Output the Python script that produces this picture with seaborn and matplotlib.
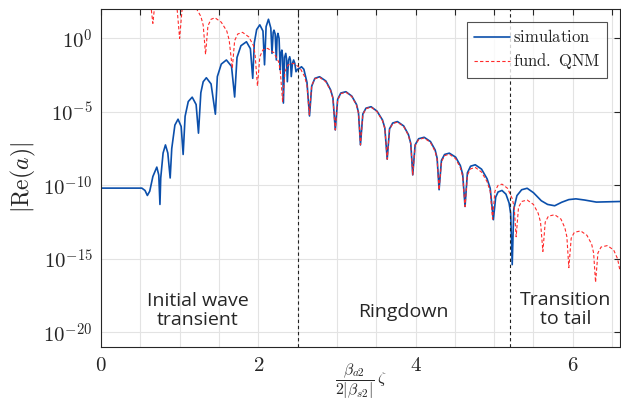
import numpy as np
import pandas as pd
import matplotlib
matplotlib.use("Agg")
import matplotlib.pyplot as plt
import seaborn as sns
from matplotlib.ticker import NullLocator

# Simulation curve: x positions and log10 |Re(a)|
sim_x = [0.00, 0.52, 0.56, 0.59, 0.62, 0.66, 0.71, 0.735, 0.75,
         0.76, 0.79, 0.82, 0.85, 0.88,
         0.90, 0.94, 0.98, 1.02, 1.045,
         1.07, 1.11, 1.16, 1.21, 1.24,
         1.27, 1.30, 1.34, 1.40, 1.455,
         1.48, 1.53, 1.595, 1.66, 1.70,
         1.73, 1.78, 1.85, 1.90, 1.93,
         1.95, 1.98, 2.02, 2.06, 2.08,
         2.10, 2.13, 2.16, 2.175,
         2.19, 2.20, 2.215, 2.23,
         2.24, 2.25, 2.265, 2.28,
         2.29, 2.30, 2.31, 2.32,
         2.335, 2.35, 2.36, 2.37,
         2.385, 2.40, 2.41, 2.42,
         2.435, 2.45, 2.465, 2.48,
         2.50, 2.525, 2.55, 2.58, 2.62, 2.652,
         2.68, 2.72, 2.78, 2.86, 2.92, 2.95, 2.98,
         3.01, 3.05, 3.115, 3.19, 3.25, 3.275, 3.30,
         3.33, 3.37, 3.435, 3.51, 3.58, 3.61, 3.64,
         3.67, 3.71, 3.77, 3.85, 3.91, 3.94, 3.965,
         3.995, 4.04, 4.11, 4.19, 4.25, 4.275, 4.30,
         4.33, 4.37, 4.43, 4.51, 4.57, 4.60, 4.63,
         4.66, 4.70, 4.76, 4.84, 4.91, 4.95, 4.99,
         5.02, 5.05, 5.10, 5.15, 5.19, 5.21, 5.23,
         5.25, 5.29, 5.35, 5.42, 5.50, 5.60, 5.68, 5.77,
         5.86, 5.95, 6.04, 6.15, 6.30, 6.45, 6.60]
sim_logy = [-10.19, -10.19, -10.35, -10.69, -10.4, -9.4, -8.76, -9.3, -11.3,
            -9.5, -7.8, -7.25, -7.8, -9.5,
            -7.5, -5.9, -5.5, -6.0, -7.9,
            -5.3, -4.3, -4.0, -4.5, -6.45,
            -3.7, -2.95, -2.68, -3.1, -5.16,
            -2.6, -1.75, -1.47, -1.9, -3.99,
            -1.3, -0.5, -0.23, -0.7, -2.72,
            -0.3, 0.6, 0.92, 0.5, -1.8,
            0.8, 1.3, 0.7, -1.02,
            0.4, 0.56, 0.3, -1.47,
            0.1, 0.34, 0.0, -2.15,
            -1.0, -0.8, -1.2, -4.4,
            -1.3, -1.02, -1.4, -2.95,
            -1.5, -1.25, -1.5, -2.6,
            -1.7, -1.47, -1.7, -2.27,
            -2.1, -2.04, -1.93, -2.1, -3.0, -5.28,
            -3.25, -2.72, -2.61, -2.9, -3.5, -4.05, -6.23,
            -4.15, -3.72, -3.63, -3.93, -4.5, -5.05, -7.25,
            -5.15, -4.75, -4.65, -4.95, -5.55, -6.1, -8.22,
            -6.15, -5.76, -5.66, -5.96, -6.55, -7.15, -9.29,
            -7.25, -6.83, -6.73, -7.02, -7.6, -8.15, -10.3,
            -8.3, -7.9, -7.81, -8.08, -8.65, -9.25, -11.44,
            -9.15, -8.7, -8.6, -8.9, -9.55, -10.2, -12.34,
            -10.8, -10.45, -10.35, -10.6, -11.2, -11.9, -15.4,
            -11.6, -10.7, -10.3, -10.2, -10.5, -11.05, -11.3, -11.39,
            -11.15, -10.97, -10.92, -11.0, -11.14, -11.12, -11.1]

# Fundamental QNM curve
qnm_x = [0.30, 0.35, 0.38, 0.47, 0.56, 0.62, 0.66,
         0.69, 0.73, 0.79, 0.87, 0.94, 0.97, 1.00,
         1.03, 1.07, 1.12, 1.20, 1.27, 1.30, 1.33,
         1.36, 1.40, 1.45, 1.53, 1.60, 1.63, 1.67,
         1.70, 1.74, 1.80, 1.88, 1.94, 1.96, 1.99,
         2.02, 2.06, 2.12, 2.20, 2.26, 2.28, 2.31,
         2.34, 2.38, 2.45, 2.53, 2.59, 2.62, 2.65,
         2.68, 2.72, 2.78, 2.86, 2.92, 2.95, 2.98,
         3.01, 3.05, 3.115, 3.19, 3.25, 3.275, 3.30,
         3.33, 3.37, 3.435, 3.51, 3.58, 3.61, 3.64,
         3.67, 3.71, 3.77, 3.85, 3.91, 3.94, 3.965,
         3.995, 4.04, 4.11, 4.19, 4.25, 4.275, 4.30,
         4.33, 4.37, 4.43, 4.51, 4.57, 4.60, 4.63,
         4.66, 4.70, 4.76, 4.84, 4.91, 4.95, 4.98,
         5.01, 5.05, 5.10, 5.17, 5.23, 5.255, 5.28,
         5.31, 5.35, 5.42, 5.50, 5.56, 5.59, 5.62,
         5.65, 5.69, 5.77, 5.85, 5.90, 5.925, 5.95,
         5.98, 6.02, 6.10, 6.18, 6.24, 6.265, 6.29,
         6.32, 6.36, 6.44, 6.52, 6.57, 6.60]
qnm_logy = [3.0, 1.97, 3.2, 4.4, 3.9, 2.9, 1.02,
            2.6, 3.3, 3.5, 3.2, 2.5, 1.9, 0.0,
            1.9, 2.35, 2.45, 2.15, 1.5, 0.9, -1.09,
            0.85, 1.3, 1.4, 1.1, 0.5, -0.1, -2.04,
            -0.15, 0.3, 0.41, 0.1, -0.5, -1.1, -3.24,
            -1.25, -0.78, -0.68, -0.98, -1.6, -2.2, -4.3,
            -2.25, -1.8, -1.7, -2.0, -2.6, -3.2, -5.2,
            -3.2, -2.75, -2.65, -2.95, -3.55, -4.1, -6.23,
            -4.2, -3.76, -3.66, -3.96, -4.55, -5.1, -7.25,
            -5.2, -4.78, -4.68, -4.98, -5.6, -6.15, -8.22,
            -6.2, -5.8, -5.7, -6.0, -6.6, -7.2, -9.29,
            -7.3, -6.88, -6.78, -7.08, -7.7, -8.25, -10.3,
            -8.4, -7.98, -7.88, -8.18, -8.8, -9.4, -11.44,
            -9.3, -8.88, -8.78, -9.1, -9.75, -10.4, -12.3,
            -10.4, -10.0, -9.92, -10.2, -10.9, -11.5, -13.5,
            -11.5, -11.1, -11.0, -11.3, -11.9, -12.5, -14.5,
            -12.5, -12.1, -12.0, -12.3, -12.9, -13.5, -15.6,
            -13.6, -13.2, -13.1, -13.4, -14.0, -14.6, -16.6,
            -14.6, -14.2, -14.1, -14.4, -15.0, -15.8]

# Phase boundaries and annotations
phase_bounds = [2.5, 5.2]
phase_labels = ["Initial wave\ntransient", "Ringdown", "Transition\nto tail"]
phase_label_x = [1.23, 3.85, 5.91]
phase_label_y = [3.0e-19, 2.5e-19, 3.5e-19]

x_ticks = [0, 0.5, 1, 1.5, 2, 2.5, 3, 3.5, 4, 4.5, 5, 5.5, 6, 6.5]
x_tick_labels = ["$0$", "", "", "", "$2$", "", "", "", "$4$", "", "", "", "$6$", ""]
y_ticks = [1e0, 1e-5, 1e-10, 1e-15, 1e-20]
y_tick_labels = ["$10^{0}$", "$10^{-5}$", "$10^{-10}$", "$10^{-15}$", "$10^{-20}$"]

sim = pd.DataFrame({"x": sim_x, "y": np.power(10.0, sim_logy)})
qnm = pd.DataFrame({"x": qnm_x, "y": np.power(10.0, qnm_logy)})

sns.set_theme(style="whitegrid")
plt.rcParams["mathtext.fontset"] = "cm"
plt.rcParams["font.family"] = ["DejaVu Sans"]

fig = plt.figure(figsize=(6.21, 4.01), dpi=100)
ax = fig.add_axes([0.1626, 0.1347, 0.8357, 0.8429])

sns.lineplot(data=sim, x="x", y="y", ax=ax, color="#0b4fab", linewidth=1.2,
             sort=False, estimator=None, label=r"$\mathrm{simulation}$")
sns.lineplot(data=qnm, x="x", y="y", ax=ax, color="#ff2a2a", linewidth=0.8,
             sort=False, estimator=None, dashes=False, label=r"$\mathrm{fund.\ QNM}$")
ax.lines[1].set_dashes([3, 2])

for xb in phase_bounds:
    ax.axvline(xb, color="#222222", linestyle=(0, (3, 2.5)), linewidth=0.8)

for lbl, lx, ly in zip(phase_labels, phase_label_x, phase_label_y):
    ax.text(lx, ly, lbl, ha="center", va="center", fontsize=14,
            family=["Open Sans", "DejaVu Sans"], linespacing=1.05)

ax.set_yscale("log")
ax.set_xlim(0, 6.6)
ax.set_ylim(1e-21, 1e2)
ax.set_xticks(x_ticks)
ax.set_xticklabels(x_tick_labels, fontsize=15)
ax.set_yticks(y_ticks)
ax.set_yticklabels(y_tick_labels, fontsize=15)
ax.yaxis.set_minor_locator(NullLocator())
ax.tick_params(direction="in", length=4, width=0.8, color="#262626",
               top=True, right=True, pad=6, labelcolor="#262626")
ax.grid(True, color="#e3e3e3", linewidth=0.8)

for s in ax.spines.values():
    s.set_visible(True)
    s.set_color("#262626")
    s.set_linewidth(0.8)

ax.set_xlabel(r"$\dfrac{\beta_{a2}}{2|\beta_{s2}|}\,\zeta$", fontsize=11.5, va="center")
ax.xaxis.set_label_coords(0.5, -0.1)
ax.set_ylabel(r"$|\mathrm{Re}(a)|$", fontsize=17, labelpad=4)

leg = ax.legend(loc="upper right", bbox_to_anchor=(0.975, 0.962), fontsize=12,
                frameon=True, fancybox=False, edgecolor="#262626",
                handlelength=2.2, handletextpad=0.15, borderpad=0.4,
                labelspacing=0.3, borderaxespad=0.0)
leg.get_frame().set_linewidth(0.8)

plt.savefig("out.png", dpi=100)
